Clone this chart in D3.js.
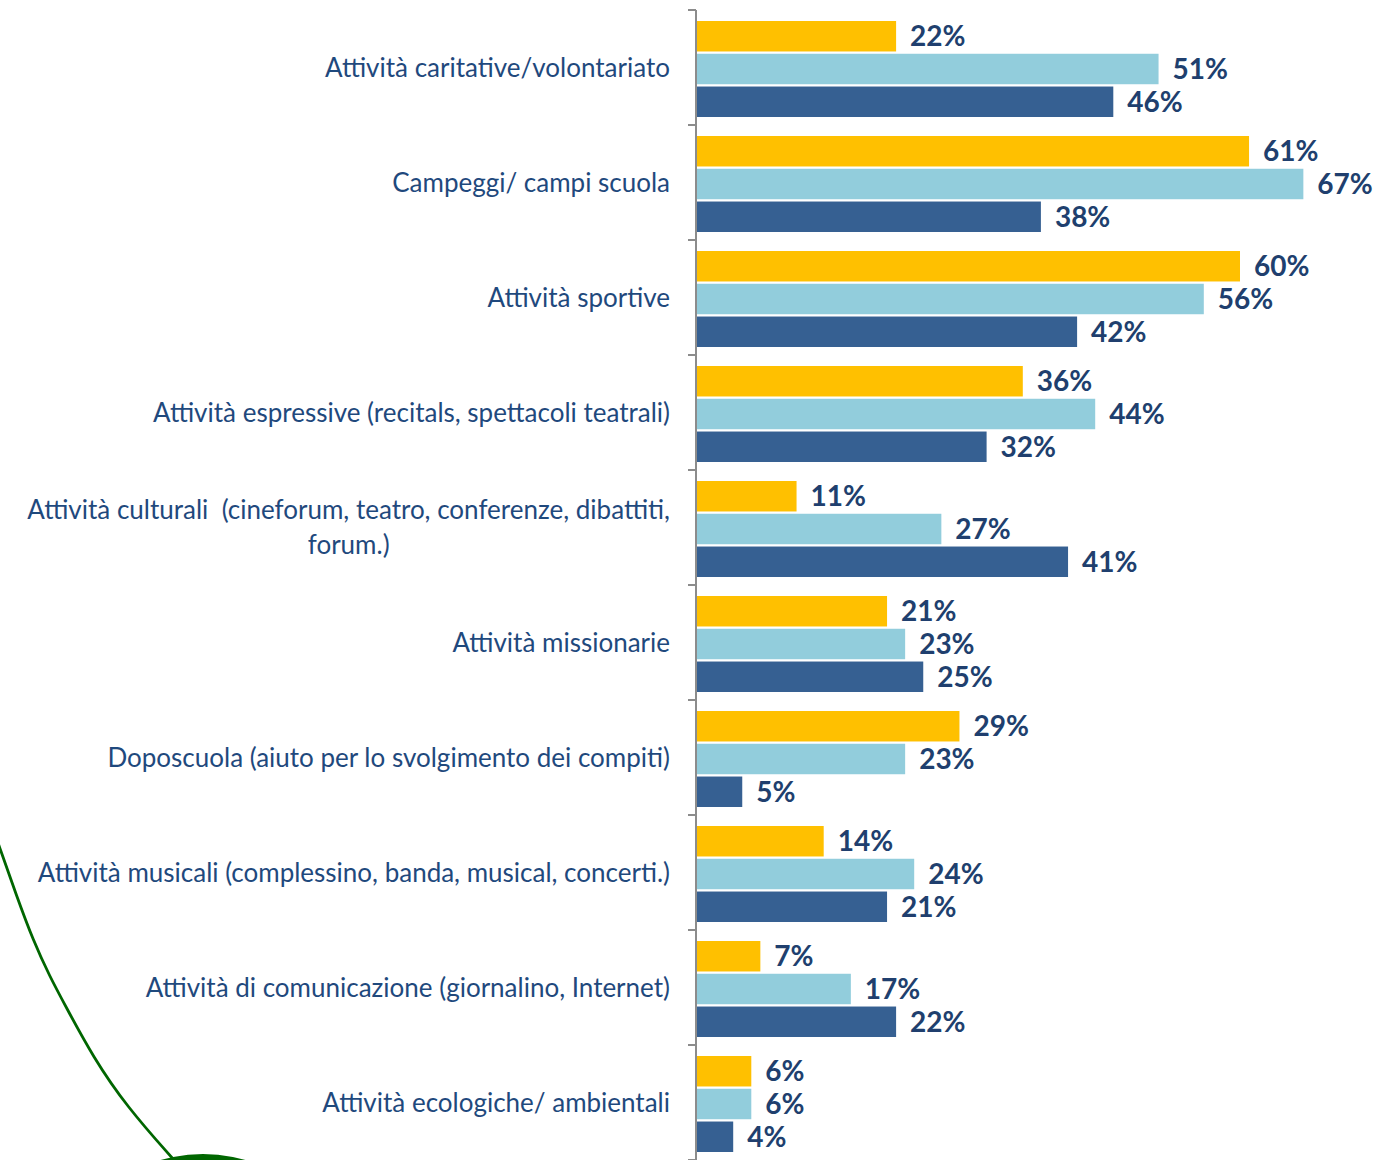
<!DOCTYPE html>
<html><head><meta charset="utf-8">
<script src="https://cdn.jsdelivr.net/npm/d3@7"></script>
<style>
html,body{margin:0;padding:0;background:#fff;}
svg{display:block;}
text{white-space:pre;}
</style></head>
<body>
<svg id="chart" width="1380" height="1160"></svg>
<script>
const categories = [
  "Attività caritative/volontariato",
  "Campeggi/ campi scuola",
  "Attività sportive",
  "Attività espressive (recitals, spettacoli teatrali)",
  "Attività culturali  (cineforum, teatro, conferenze, dibattiti,|forum.)",
  "Attività missionarie",
  "Doposcuola (aiuto per lo svolgimento dei compiti)",
  "Attività musicali (complessino, banda, musical, concerti.)",
  "Attività di comunicazione (giornalino, Internet)",
  "Attività ecologiche/ ambientali"
];
const seriesNames = ["s1","s2","s3"];
const series1 = [22,61,60,36,11,21,29,14,7,6];
const series2 = [51,67,56,44,27,23,23,24,17,6];
const series3 = [46,38,42,32,41,25,5,21,22,4];
const seriesColors = ["#FFC000","#92CDDC","#366092"];
// decorative green curve path points
const curvePts = [[-3,840],[17,897],[33,940],[50,977],[65,1005],[93,1057],[127,1107],[174,1160]];

const svg = d3.select("#chart");
const x0 = 697, y0 = 10, y1 = 1160;
const x = d3.scaleLinear().domain([0,75]).range([x0, x0 + 75*9.05]);
const y = d3.scaleBand().domain(categories).range([y0,y1]).paddingInner(0).paddingOuter(0);
const ySub = d3.scaleBand().domain(seriesNames).range([11, 107]).paddingInner(0.07);

const data = categories.map((c,i)=>({cat:c, vals:[series1[i],series2[i],series3[i]]}));

// decoration
svg.append("path")
  .attr("d", d3.line().curve(d3.curveBasis)(curvePts))
  .attr("fill","none").attr("stroke","#006600").attr("stroke-width",2.8);
svg.append("circle").attr("cx",203).attr("cy",1307).attr("r",153).attr("fill","#006600");

// bars
const g = svg.selectAll("g.cat").data(data).join("g").attr("class","cat")
  .attr("transform", d=>`translate(0,${y(d.cat)})`);
g.selectAll("rect").data(d=>d.vals.map((v,k)=>({v,k}))).join("rect")
  .attr("x", x(0)).attr("y", d=>ySub(seriesNames[d.k]))
  .attr("width", d=>x(d.v)-x(0)).attr("height", ySub.bandwidth())
  .attr("fill", d=>seriesColors[d.k]);
g.selectAll("text.val").data(d=>d.vals.map((v,k)=>({v,k}))).join("text").attr("class","val")
  .attr("x", d=>x(d.v)+14).attr("y", d=>ySub(seriesNames[d.k])+ySub.bandwidth()/2)
  .attr("dy","0.36em")
  .attr("font-family","Lato, 'Open Sans', sans-serif").attr("font-weight","bold")
  .attr("font-size",28).attr("fill","#203F6E")
  .text(d=>d.v+"%");

// axis
const axis = d3.axisLeft(y).tickSize(8).tickFormat("");
const ag = svg.append("g").attr("transform",`translate(${x0-1},0)`).call(axis);
ag.select(".domain").remove();
ag.selectAll(".tick").remove();
const tickYs = categories.map(c=>y(c)).concat([y1]);
ag.selectAll("line.t").data(tickYs).join("line").attr("class","t")
  .attr("x1",-8).attr("x2",0).attr("y1",d=>d).attr("y2",d=>d)
  .attr("stroke","#8C8C8C").attr("stroke-width",2);
ag.append("line").attr("x1",0).attr("x2",0).attr("y1",y0).attr("y2",y1)
  .attr("stroke","#8C8C8C").attr("stroke-width",2);

// category labels
const labelRight = 670;
categories.forEach(c=>{
  const lines = c.split("|");
  const cy = y(c)+y.bandwidth()/2;
  const lh = 35;
  const t = svg.append("text")
    .attr("font-family","Lato, 'Open Sans', sans-serif").attr("font-size",26)
    .attr("fill","#1F497D");
  const spans = lines.map((l,i)=>t.append("tspan").attr("y", cy + (i-(lines.length-1)/2)*lh).attr("dy","0.35em").text(l));
  const widths = spans.map(s=>s.node().getComputedTextLength());
  const maxW = d3.max(widths);
  if (lines.length===1) {
    spans[0].attr("x", labelRight).attr("text-anchor","end");
  } else {
    spans.forEach(s=>s.attr("x", labelRight - maxW/2).attr("text-anchor","middle"));
  }
});
</script>
</body></html>
